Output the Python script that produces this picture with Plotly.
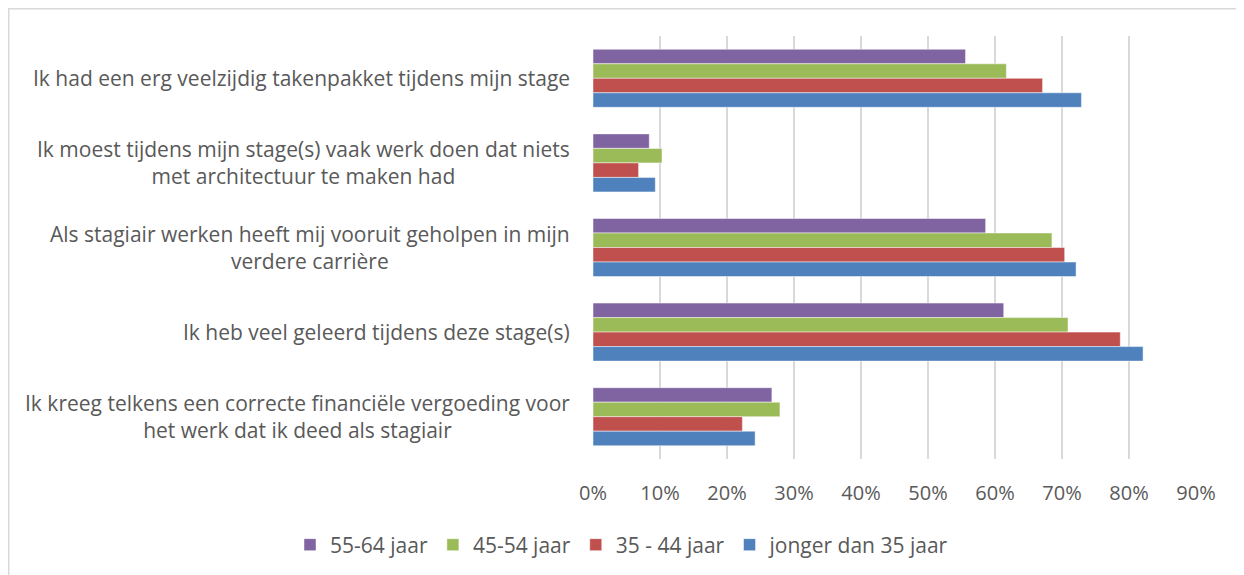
import plotly.graph_objects as go

categories = [
    "Ik had een erg veelzijdig takenpakket tijdens mijn stage",
    "Ik moest tijdens mijn stage(s) vaak werk doen dat niets<br>met architectuur te maken had",
    "Als stagiair werken heeft mij vooruit geholpen in mijn<br>verdere carrière",
    "Ik heb veel geleerd tijdens deze stage(s)",
    "Ik kreeg telkens een correcte financiële vergoeding voor<br>het werk dat ik deed als stagiair",
]
cat_ids = ["c1", "c2", "c3", "c4", "c5"]

series_names = ["55-64 jaar", "45-54 jaar", "35 - 44 jaar", "jonger dan 35 jaar"]
vals_55_64 = [0.556, 0.084, 0.586, 0.613, 0.267]
vals_45_54 = [0.617, 0.103, 0.685, 0.709, 0.279]
vals_35_44 = [0.671, 0.068, 0.704, 0.787, 0.223]
vals_jonger = [0.729, 0.093, 0.721, 0.821, 0.242]
colors = ["#8064A2", "#9BBB59", "#C0504D", "#4F81BD"]

x_ticks = [0, 0.1, 0.2, 0.3, 0.4, 0.5, 0.6, 0.7, 0.8, 0.9]
x_ticklabels = ["0%", "10%", "20%", "30%", "40%", "50%", "60%", "70%", "80%", "90%"]

FONT = "Open Sans"
GRAY = "#595959"

# page body has an 8px margin: figure coordinates are reference pixels minus 8
W, H = 1236, 567
L, R, T, B = 585, 48, 28, 116
pw, ph = W - L - R, H - T - B

fig = go.Figure()
for name, vals, col in zip(series_names, [vals_55_64, vals_45_54, vals_35_44, vals_jonger], colors):
    fig.add_trace(go.Bar(
        name=name, y=cat_ids, x=vals, orientation="h",
        marker=dict(color=col, line=dict(color="rgba(255,255,255,0.6)", width=0.8)),
    ))

for cid, label in zip(cat_ids, categories):
    fig.add_annotation(
        x=-21 / pw, xref="paper", y=cid, yref="y",
        text=label, showarrow=False, xanchor="right", yanchor="middle",
        align="center", font=dict(family=FONT, size=21, color=GRAY),
    )

fig.add_shape(
    type="rect", xref="paper", yref="paper",
    x0=(0.75 - L) / pw, x1=(W + 20 - L) / pw,
    y0=(H - B - (H + 20)) / ph, y1=(H - B - 0.75) / ph,
    line=dict(color="#D9D9D9", width=1.5), fillcolor="rgba(0,0,0,0)", layer="below",
)

fig.update_layout(
    width=W, height=H,
    margin=dict(l=L, r=R, t=T, b=B, pad=0, autoexpand=False),
    paper_bgcolor="white", plot_bgcolor="white",
    barmode="group", bargap=0.314, bargroupgap=0,
    font=dict(family=FONT, size=20, color=GRAY),
    xaxis=dict(
        range=[0, 0.9], tickvals=x_ticks, ticktext=x_ticklabels,
        showgrid=True, gridcolor="#D9D9D9", gridwidth=1.5,
        zeroline=False, showline=False, ticks="",
        ticklabelstandoff=20,
        tickfont=dict(family=FONT, size=20, color=GRAY),
    ),
    yaxis=dict(
        categoryorder="array", categoryarray=cat_ids,
        autorange="reversed", showticklabels=False, showgrid=False,
        zeroline=False, showline=False, ticks="",
    ),
    legend=dict(
        orientation="h", x=(282 - L) / pw, xanchor="left",
        y=(H - B - 537) / ph, yanchor="middle",
        font=dict(family=FONT, size=21, color=GRAY),
        itemwidth=30, traceorder="normal",
    ),
    showlegend=True,
)

fig.write_html("out.html")
